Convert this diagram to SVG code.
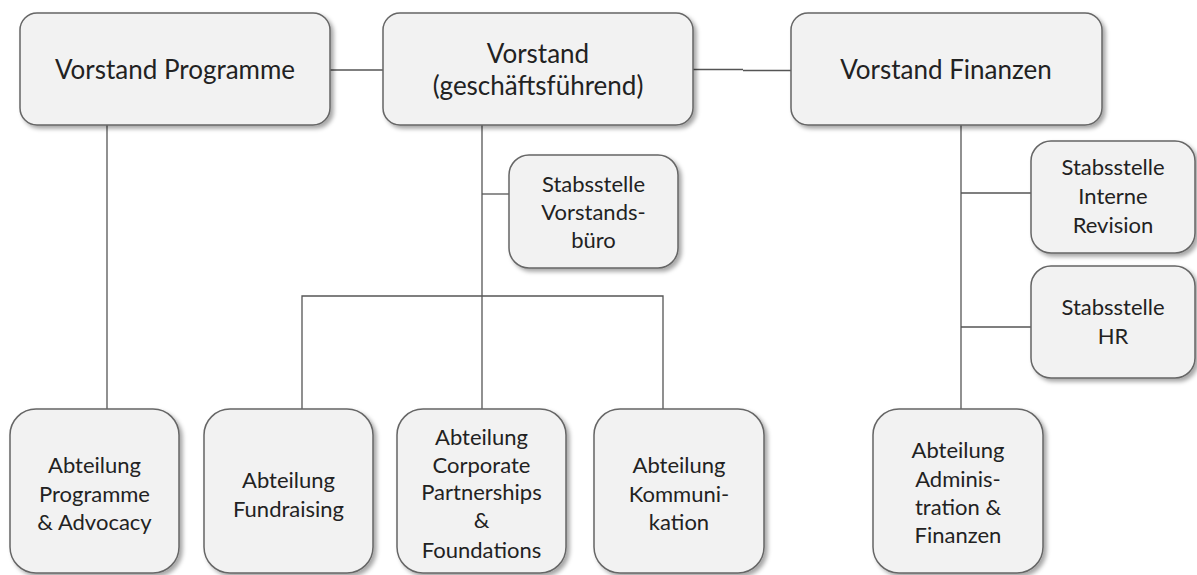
<svg xmlns="http://www.w3.org/2000/svg" width="1197" height="575" viewBox="0 0 1197 575">
<defs>
<filter id="sh" x="-10%" y="-10%" width="125%" height="125%">
<feDropShadow dx="3" dy="3" stdDeviation="2" flood-color="#000" flood-opacity="0.35"/>
</filter>
<style>
.box{fill:#f2f2f2;stroke:#666;stroke-width:1.5;filter:url(#sh)}
.t{font-family:Lato,"Noto Sans",sans-serif;fill:#222;text-anchor:middle}
.big{font-size:26px}
.sm{font-size:22px}
.ln{stroke:#555;stroke-width:1.3;fill:none}
</style>
</defs>
<rect width="1197" height="575" fill="#fff"/>
<g id="connectors">
<path class="ln" d="M330 70H383"/>
<path class="ln" d="M693 69.5H743M743 70.5H791"/>
<path class="ln" d="M107 125V409"/>
<path class="ln" d="M482 125V409"/>
<path class="ln" d="M482 194H509"/>
<path class="ln" d="M302 409V296H663V409"/>
<path class="ln" d="M961 125V409"/>
<path class="ln" d="M961 193H1031"/>
<path class="ln" d="M961 327H1031"/>
</g>
<g id="vorstand-programme">
<rect class="box" x="20" y="13" width="310" height="112" rx="17"/>
<text class="t big" x="175" y="79">Vorstand Programme</text>
</g>
<g id="vorstand-gf">
<rect class="box" x="383" y="13" width="310" height="112" rx="17"/>
<text class="t big" x="538" y="63">Vorstand</text>
<text class="t big" x="538" y="95">(geschäftsführend)</text>
</g>
<g id="vorstand-finanzen">
<rect class="box" x="791" y="13" width="311" height="112" rx="17"/>
<text class="t big" x="946" y="79">Vorstand Finanzen</text>
</g>
<g id="stab-vorstandsbuero">
<rect class="box" x="509" y="155" width="169" height="113" rx="20"/>
<text class="t sm" x="593.5" y="192">Stabsstelle</text>
<text class="t sm" x="593.5" y="220">Vorstands-</text>
<text class="t sm" x="593.5" y="248">büro</text>
</g>
<g id="stab-revision">
<rect class="box" x="1031" y="141" width="164" height="112" rx="20"/>
<text class="t sm" x="1113" y="175">Stabsstelle</text>
<text class="t sm" x="1113" y="204">Interne</text>
<text class="t sm" x="1113" y="233">Revision</text>
</g>
<g id="stab-hr">
<rect class="box" x="1031" y="266" width="164" height="112" rx="20"/>
<text class="t sm" x="1113" y="315">Stabsstelle</text>
<text class="t sm" x="1113" y="344">HR</text>
</g>
<g id="abt-programme">
<rect class="box" x="10" y="409" width="169" height="164" rx="26"/>
<text class="t sm" x="94.5" y="473">Abteilung</text>
<text class="t sm" x="94.5" y="502">Programme</text>
<text class="t sm" x="94.5" y="530">&amp; Advocacy</text>
</g>
<g id="abt-fundraising">
<rect class="box" x="204" y="409" width="169" height="164" rx="26"/>
<text class="t sm" x="288.5" y="488">Abteilung</text>
<text class="t sm" x="288.5" y="517">Fundraising</text>
</g>
<g id="abt-corporate">
<rect class="box" x="397" y="409" width="169" height="164" rx="26"/>
<text class="t sm" x="481.5" y="445">Abteilung</text>
<text class="t sm" x="481.5" y="473">Corporate</text>
<text class="t sm" x="481.5" y="500">Partnerships</text>
<text class="t sm" x="481.5" y="528">&amp;</text>
<text class="t sm" x="481.5" y="558">Foundations</text>
</g>
<g id="abt-kommunikation">
<rect class="box" x="594" y="409" width="170" height="164" rx="26"/>
<text class="t sm" x="679" y="473">Abteilung</text>
<text class="t sm" x="679" y="502">Kommuni-</text>
<text class="t sm" x="679" y="530">kation</text>
</g>
<g id="abt-administration">
<rect class="box" x="873" y="409" width="170" height="164" rx="26"/>
<text class="t sm" x="958" y="458">Abteilung</text>
<text class="t sm" x="958" y="487">Adminis-</text>
<text class="t sm" x="958" y="515">tration &amp;</text>
<text class="t sm" x="958" y="543">Finanzen</text>
</g>
</svg>
